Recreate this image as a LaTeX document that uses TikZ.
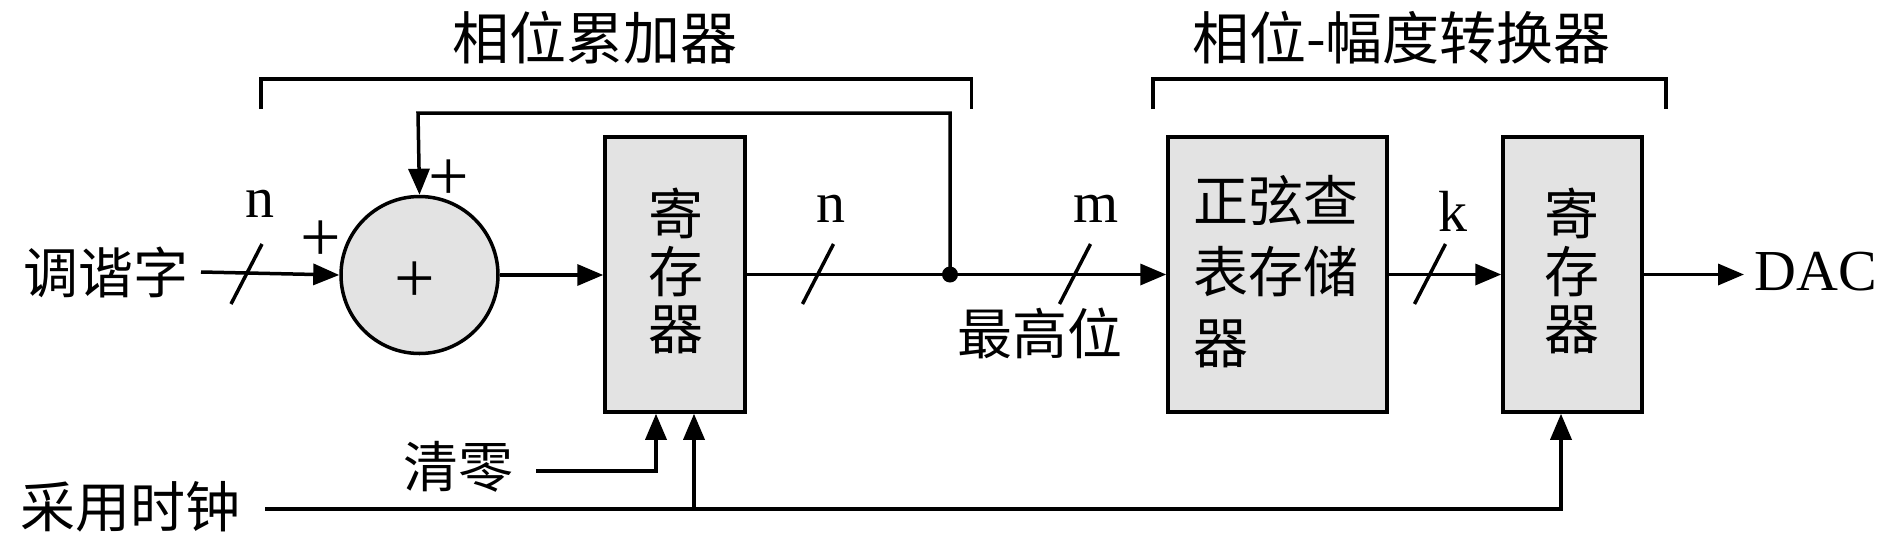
\documentclass[tikz,border=0pt]{standalone}
\usepackage{fontspec}
\setmainfont{Liberation Serif}
\newfontfamily\cjk{Noto Sans CJK SC}
\usetikzlibrary{arrows.meta}

\begin{document}
\begin{tikzpicture}[x = 1pt,
                    y = -1pt,
                    line width = 3.5pt,
                    >={Triangle[length=26pt,width=21pt]}]
% styles
\tikzset{blockstyle/.style={draw=black,fill=gray!22,rectangle,minimum height=275pt,inner sep=0pt},
         sumstyle/.style={draw=black,fill=gray!22,circle,minimum size=157pt,inner sep=0pt},
         latinstyle/.style={inner sep=0pt,font=\fontsize{58}{60}\selectfont},
         plusstyle/.style={inner sep=0pt,font=\fontsize{72}{72}\selectfont},
         cjkstyle/.style={inner sep=0pt,font=\cjk\fontsize{55}{60}\selectfont}}
\useasboundingbox (0,0) rectangle (1890,536);

% coordinates
\coordinate (C1) at (418,113);  % feedback corner
\coordinate (C2) at (950,113);  % feedback corner
\coordinate (C3) at (656,471);  % clear corner
\coordinate (C4) at (694,509);  % clock branch
\coordinate (C5) at (1561,509); % clock corner

% blocks
\node[sumstyle] (sum) at (419.5,275) {};
\node[blockstyle,minimum width=140pt] (reg1) at (675,274.5) {};
\node[blockstyle,minimum width=219pt] (lut) at (1277.5,274.5) {};
\node[blockstyle,minimum width=139pt] (reg2) at (1572.5,274.5) {};
\node[plusstyle] (psum) at (415,282) {+};
\node[cjkstyle,align=center,font=\cjk\fontsize{55}{57.5}\selectfont] (reg1text) at (676,271) {寄\\存\\器};
\node[cjkstyle,align=left,font=\cjk\fontsize{55}{71}\selectfont] (luttext) at (1276,272) {正弦查\\表存储\\器};
\node[cjkstyle,align=center,font=\cjk\fontsize{55}{57.5}\selectfont] (reg2text) at (1572,271) {寄\\存\\器};

% texts
\node[cjkstyle,font=\cjk\fontsize{57}{60}\selectfont] (title1) at (595,38) {相位累加器};
\node[cjkstyle,font=\cjk\fontsize{57}{60}\selectfont] (title2) at (1401.5,38) {相位-幅度转换器};
\node[cjkstyle,anchor=east] (tune) at (190,272) {调谐字};
\node[cjkstyle,anchor=east] (clr) at (515,467) {清零};
\node[cjkstyle,anchor=east] (clk) at (242,507) {采用时钟};
\node[cjkstyle] (msb) at (1039.5,333) {最高位};
\node[latinstyle,anchor=west,inner xsep=9pt] (dac) at (1744,272) {DAC};
\node[latinstyle,anchor=base] (bwa) at (260,217) {n};
\node[latinstyle,anchor=base] (bwb) at (831,222) {n};
\node[latinstyle,anchor=base] (bwc) at (1096,222) {m};
\node[latinstyle,anchor=base] (bwd) at (1453,231) {k};
\node[plusstyle] (pa) at (321,241) {+};
\node[plusstyle] (pb) at (449,180) {+};

%brackets
\draw (261,109) -- (261,79) -- (971.5,79) -- (971.5,109);
\draw (1153,109) -- (1153,79) -- (1666,79) -- (1666,109);

%signal path
\draw [arrows = ->] (tune.east) ++(11,0) -- (sum.west);
\draw [arrows = ->] (sum.east) -- (reg1.west |- sum.east);
\draw [arrows = ->] (reg1.east) -- (lut.west);
\draw [arrows = ->] (lut.east) -- (reg2.west);
\draw [arrows = ->] (reg2.east) -- (reg2.east -| dac.west);
\fill (C2 |- reg1.east) circle (8pt);
%feedback
\draw [arrows = ->] (C2 |- reg1.east) -- (C2) -- (C1) -- (sum.north);
%clear and clock
\draw [arrows = ->] (clr.east) ++(21,4) -- (C3) -- (C3 |- reg1.south);
\draw [arrows = ->] (clk.east) ++(23,2) -- (C5) -- (C5 |- reg2.south);
\draw [arrows = ->] (C4) -- (C4 |- reg1.south);

%bus slashes
\foreach \sx in {246.5,818,1075,1430}
  \draw (\sx-15.5,304) -- (\sx+15.5,244);
\end{tikzpicture}
\end{document}
